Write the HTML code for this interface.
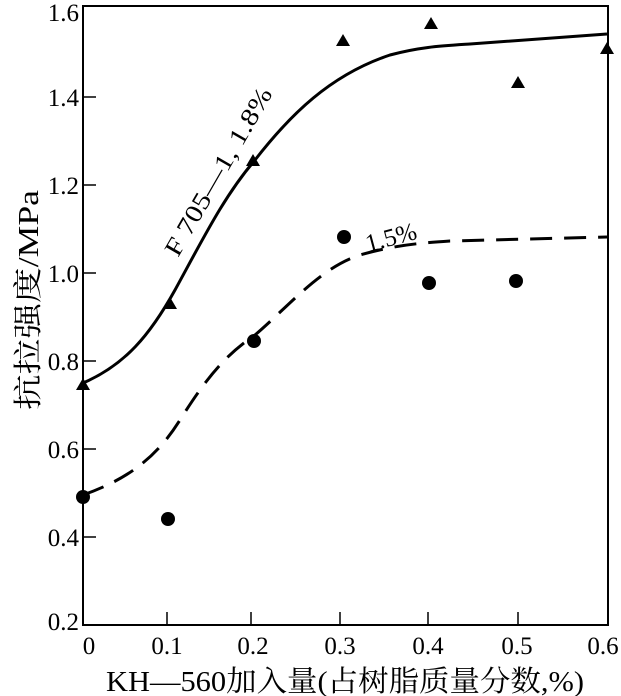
<!DOCTYPE html>
<html><head><meta charset="utf-8"><style>
html,body{margin:0;padding:0;background:#fff;}
svg{display:block;}
text{font-family:"Liberation Serif","Noto Serif CJK SC",serif;fill:#000;}
</style></head><body>
<svg width="621" height="696" viewBox="0 0 621 696" xmlns="http://www.w3.org/2000/svg">
<rect x="83" y="6" width="525" height="619" fill="none" stroke="#000" stroke-width="2"/>
<g stroke="#000" stroke-width="1.5">
<line x1="83" y1="97" x2="96" y2="97"/><line x1="83" y1="185" x2="96" y2="185"/>
<line x1="83" y1="273" x2="96" y2="273"/><line x1="83" y1="361" x2="96" y2="361"/>
<line x1="83" y1="449" x2="96" y2="449"/><line x1="83" y1="537" x2="96" y2="537"/>
<line x1="167" y1="625" x2="167" y2="612"/><line x1="251" y1="625" x2="251" y2="612"/>
<line x1="340" y1="625" x2="340" y2="612"/><line x1="428" y1="625" x2="428" y2="612"/>
<line x1="518" y1="625" x2="518" y2="612"/>
</g>
<g font-size="25" text-anchor="end">
<text x="79" y="21">1.6</text><text x="79" y="106">1.4</text><text x="79" y="194">1.2</text>
<text x="79" y="282">1.0</text><text x="79" y="370">0.8</text><text x="79" y="458">0.6</text>
<text x="79" y="546">0.4</text><text x="79" y="630">0.2</text>
</g>
<g font-size="25" text-anchor="middle">
<text x="89" y="654">0</text><text x="167" y="654">0.1</text><text x="253" y="654">0.2</text>
<text x="340" y="654">0.3</text><text x="428" y="654">0.4</text><text x="517" y="654">0.5</text>
<text x="603" y="654">0.6</text>
</g>
<text x="345" y="691" font-size="29" text-anchor="middle" textLength="478" lengthAdjust="spacingAndGlyphs">KH—560加入量(占树脂质量分数,%)</text>
<text transform="translate(38,300) rotate(-90)" font-size="29" text-anchor="middle" textLength="220" lengthAdjust="spacingAndGlyphs">抗拉强度/MPa</text>
<path d="M83,383 C125,365 150,335 175,290 C205,235 225,195 255,160 C290,115 330,75 390,55 C420,47 440,46 470,44 L607,34" fill="none" stroke="#000" stroke-width="3"/>
<path d="M83,495 C125,480 155,460 180,420 C205,380 225,355 255,335 C290,305 320,268 360,255 C395,245 420,243 450,241 L607,237" fill="none" stroke="#000" stroke-width="3" stroke-dasharray="22,12"/>
<g fill="#000">
<polygon points="83,378 76,390 90,390"/><polygon points="170,297 163,309 177,309"/>
<polygon points="253,154 246,166 260,166"/><polygon points="343,34 336,46 350,46"/>
<polygon points="431,17 424,29 438,29"/><polygon points="518,76 511,88 525,88"/>
<polygon points="607,42 600,54 614,54"/>
<circle cx="83" cy="497" r="7"/><circle cx="168" cy="519" r="7"/><circle cx="254" cy="341" r="7"/>
<circle cx="344" cy="237" r="7"/><circle cx="429" cy="283" r="7"/><circle cx="516" cy="281" r="7"/>
</g>
<text transform="translate(178,258) rotate(-60)" font-size="25" textLength="190" lengthAdjust="spacingAndGlyphs">F 705—1, 1.8%</text>
<text transform="translate(368,252) rotate(-15)" font-size="25">1.5%</text>
</svg>
</body></html>
